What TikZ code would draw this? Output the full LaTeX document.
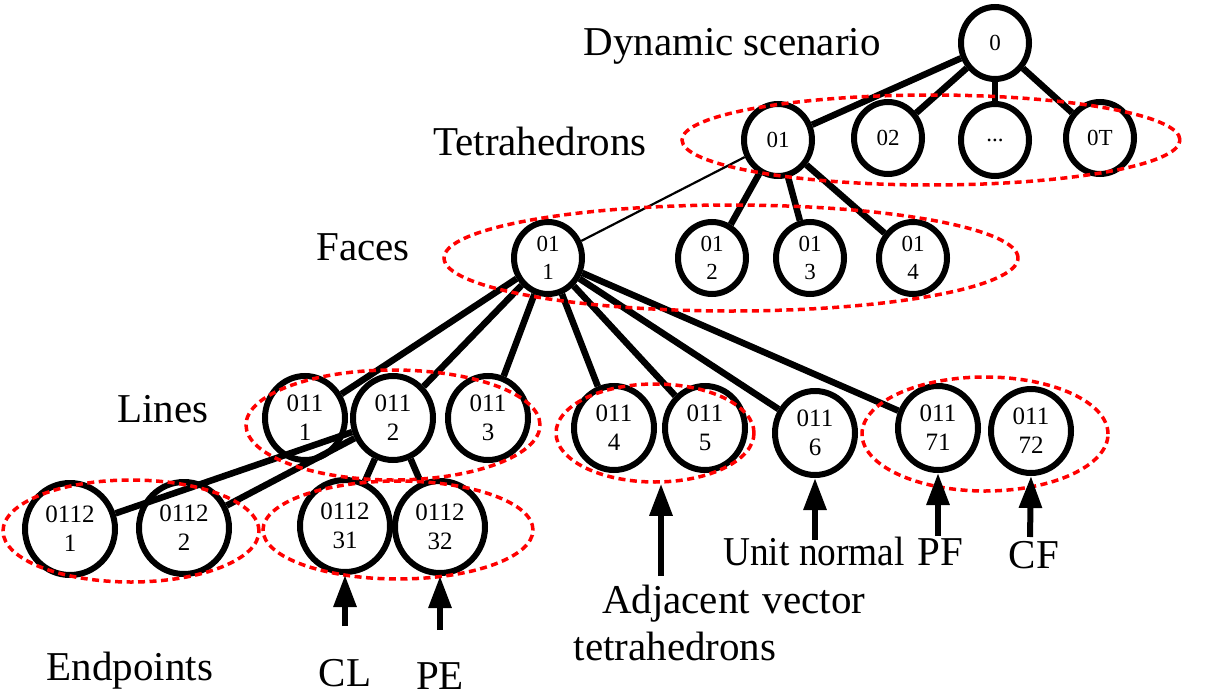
\documentclass[tikz,border=0pt]{standalone}
\usepackage{fontspec}
\setmainfont{Liberation Serif}
\usetikzlibrary{shapes.geometric,arrows.meta}
\begin{document}
\begin{tikzpicture}[x=1pt,y=-1pt,
  nd/.style={ellipse,draw,line width=6pt,inner sep=0pt,align=center,
    font=\fontsize{23}{28}\selectfont},
  ndA/.style={nd,minimum width=68pt,minimum height=72pt},
  ndB/.style={nd,minimum width=80pt,minimum height=84pt,font=\fontsize{25}{29}\selectfont},
  ndC/.style={nd,minimum width=90pt,minimum height=92pt,font=\fontsize{25}{29}\selectfont},
  grp/.style={ellipse,draw=red,dashed,line width=3.5pt,dash pattern=on 7pt off 4.5pt,inner sep=0pt},
  edge/.style={line width=6.5pt},
  thin edge/.style={line width=2.2pt},
  lbl/.style={font=\fontsize{41}{45}\selectfont,inner sep=0pt,anchor=base},
  arr/.style={line width=6pt,-{Triangle[width=22pt,length=32pt]}}
]
\useasboundingbox (0,0) rectangle (1216,696);
% nodes
\node[ndA] (n0) at (995,43) {0};
\node[ndA] (n01) at (778,140) {01};
\node[ndA] (n02) at (888,138) {02};
\node[ndA] (n0d) at (995,140) {...};
\node[ndA] (n0T) at (1100,138) {0T};
\node[ndA] (n011) at (548,258) {01\\1};
\node[ndA] (n012) at (712,258) {01\\2};
\node[ndA] (n013) at (810,258) {01\\3};
\node[ndA] (n014) at (913,258) {01\\4};
\node[ndB] (l1) at (305,418) {011\\1};
\node[ndB] (l2) at (393,418) {011\\2};
\node[ndB] (l3) at (488,418) {011\\3};
\node[ndB] (l4) at (614,428) {011\\4};
\node[ndB] (l5) at (705,428) {011\\5};
\node[ndB] (l6) at (815,433) {011\\6};
\node[ndB] (l71) at (938,428) {011\\71};
\node[ndB] (l72) at (1031,431) {011\\72};
\node[ndC] (e1) at (70,529) {0112\\1};
\node[ndC] (e2) at (184,528) {0112\\2};
\node[ndC] (e31) at (345,526) {0112\\31};
\node[ndC] (e32) at (440,527) {0112\\32};
% edges
\draw[edge] (n0) -- (n01);
\draw[edge] (n0) -- (n02);
\draw[edge] (n0) -- (n0d);
\draw[edge] (n0) -- (n0T);
\draw[thin edge] (n01) -- (n011);
\draw[edge] (n01) -- (n012);
\draw[edge] (n01) -- (n013);
\draw[edge] (n01) -- (n014);
\foreach \t in {l1,l2,l3,l4,l5,l6,l71} \draw[edge] (n011) -- (\t);
\foreach \t in {e1,e2,e31,e32} \draw[edge] (l2) -- (\t);
% groups
\node[grp,minimum width=498pt,minimum height=90pt] (gT) at (931,140) {};
\node[grp,minimum width=574pt,minimum height=106pt] (gF) at (731,258) {};
\node[grp,minimum width=294pt,minimum height=110pt] (gL1) at (393,425) {};
\node[grp,minimum width=198pt,minimum height=98pt] (gL2) at (655,433) {};
\node[grp,minimum width=246pt,minimum height=114pt] (gL3) at (985,434) {};
\node[grp,minimum width=256pt,minimum height=102pt] (gE1) at (131,531) {};
\node[grp,minimum width=270pt,minimum height=98pt] (gE2) at (398,530) {};
% labels
\node[lbl] (tDyn) at (732,55) {Dynamic scenario};
\node[lbl] (tTet) at (540,155) {Tetrahedrons};
\node[lbl] (tFac) at (363,260) {Faces};
\node[lbl] (tLin) at (163,422) {Lines};
\node[lbl] (tEnd) at (130,680) {Endpoints};
\node[lbl] (tCL) at (345,686) {CL};
\node[lbl] (tPE) at (440,689) {PE};
\node[lbl] (tAdj) at (676,613) {Adjacent};
\node[lbl] (tTh) at (675,660) {tetrahedrons};
\node[lbl] (tUn) at (814,565) {\scalebox{0.91}[1]{Unit normal}};
\node[lbl] (tVec) at (814,613) {vector};
\node[lbl] (tPF) at (940,565) {PF};
\node[lbl] (tCF) at (1034,568) {CF};
% arrows
\coordinate (aCL) at (345,626);
\coordinate (aPE) at (440,630);
\coordinate (aAdj) at (661,576);
\coordinate (aUn) at (815,540);
\coordinate (aPF) at (938,536);
\coordinate (aCF) at (1030,537);
\draw[arr] (aCL) -- (e31.south);
\draw[arr] (aPE) -- (e32.south);
\draw[arr] (aAdj) -- (aAdj |- gL2.south);
\draw[arr] (aUn) -- (l6.south);
\draw[arr] (aPF) -- (l71.south);
\draw[arr] (aCF) -- (l72.south);
\end{tikzpicture}
\end{document}
